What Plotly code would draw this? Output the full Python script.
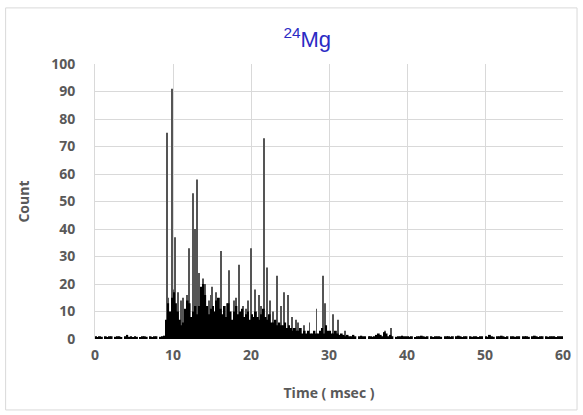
import numpy as np
import plotly.graph_objects as go

# ---- data ----
# dense background counts, one value per 0.25 ms bin starting at 0 ms (20 values = 5 ms per row)
base_step_ms = 0.25
base_counts = [
    1, 0.5, 1, 0.8, 0, 1, 0.6, 1, 1, 0, 0.8, 1, 1, 0.6, 0, 1, 1.5, 0.8, 1, 0.6,      # 0-5
    1, 0.8, 0, 0.6, 1, 1, 0.8, 0, 1, 0.7, 1, 1, 0, 0.8, 1, 1.2, 7, 13, 10, 15,       # 5-10
    17, 13, 10, 7, 5, 6, 11, 14, 13, 8, 10, 12, 9, 12, 19, 20, 16, 12, 9, 11,        # 10-15
    12, 10, 14, 15, 11, 9, 12, 8, 13, 10, 7, 10, 12, 9, 10, 11, 8, 9, 10, 7,         # 15-20
    9, 8, 10, 8, 7, 9, 11, 8, 7, 9, 6, 6, 7, 5, 6, 5, 5, 6, 4, 5,                    # 20-25
    4, 3, 4, 3, 3, 4, 2, 3, 2, 3, 2, 2, 3, 2, 2, 3, 4, 2, 5, 3,                      # 25-30
    3, 2, 2, 3, 2, 1.5, 2, 1.5, 1, 1.5, 1, 1, 1.5, 1, 0, 1, 1.2, 1, 1, 0,            # 30-35
    1, 1, 0.8, 1, 1.5, 2, 1.5, 1, 2.5, 2, 1, 1.5, 1, 0, 0.8, 1, 1, 1.2, 1, 1,        # 35-40
    1, 0.8, 1, 0, 0.7, 1, 1, 1.2, 1, 0.8, 1, 0, 1, 0.6, 1, 1, 1, 0.8, 0, 1,          # 40-45
    1, 1, 0.8, 1, 0, 1, 1.2, 1, 0.7, 1, 1, 0, 1, 0.8, 1, 1, 0.6, 1, 1, 0,            # 45-50
    1, 0.8, 1.5, 1, 0.8, 0, 1, 1, 1.2, 1, 0.7, 1, 0, 1, 1, 0.8, 1, 1, 0, 1,          # 50-55
    1, 1, 0.8, 0, 1, 1.2, 1, 0.7, 1, 1, 0, 1, 0.8, 1, 1, 1, 0.6, 1, 1, 1,            # 55-60
]

# individual spikes (time in ms, count)
spike_times = [9.2, 9.35, 9.9, 10.05, 10.2, 10.6, 11.3, 11.8, 12.1, 12.6, 12.85, 13.1,
               13.3, 13.8, 14.1, 14.6, 15.0, 15.5, 16.2, 16.6, 17.2, 17.8, 18.5, 19.0,
               19.6, 20.0, 20.5, 21.0, 21.7, 22.0, 22.4, 23.3, 23.8, 24.2, 24.7, 25.3,
               26.0, 26.8, 27.5, 28.4, 29.2, 29.5, 30.5, 31.2, 32.0, 37.2, 38.0,
               11.0, 14.9, 16.9, 18.1, 19.3, 21.3, 22.8, 25.8]
spike_counts = [75, 15, 91, 18, 37, 17, 15, 16, 33, 53, 40, 58,
                24, 22, 20, 14, 19, 17, 32, 12, 25, 14, 27, 12,
                14, 33, 18, 16, 73, 26, 14, 23, 12, 17, 16, 8,
                6, 5, 6, 11, 23, 13, 9, 7, 3, 3, 4,
                14, 16, 13, 15, 11, 12, 10, 7]

x_ticks = [0, 10, 20, 30, 40, 50, 60]
y_ticks = [0, 10, 20, 30, 40, 50, 60, 70, 80, 90, 100]

base_times = np.arange(len(base_counts)) * base_step_ms + base_step_ms / 2

fig = go.Figure()
fig.add_trace(go.Bar(x=spike_times, y=spike_counts, width=0.12,
                     marker=dict(color="#555555", line=dict(width=0))))
fig.add_trace(go.Bar(x=base_times, y=base_counts, width=base_step_ms,
                     marker=dict(color="#000000", line=dict(width=0))))

tick_font = dict(family="Open Sans", size=14, color="#595959", weight="bold")
title_font = dict(family="Open Sans", size=14, color="#595959", weight="bold")
fig.update_layout(
    width=583, height=415,
    margin=dict(l=95, r=17, t=64, b=76),
    paper_bgcolor="white", plot_bgcolor="white",
    barmode="overlay", showlegend=False,
    title=dict(text="<sup>24</sup>Mg", x=0.527, xanchor="center", y=0.905, yanchor="middle",
               font=dict(family="Liberation Sans", size=22, color="#2b2bc4")),
    xaxis=dict(range=[0, 60], tickvals=x_ticks, showgrid=True, gridcolor="#d9d9d9",
               gridwidth=1, zeroline=False, showline=False, tickfont=tick_font,
               ticks="", ticklen=0, ticklabelstandoff=6,
               title=dict(text="Time ( msec )", standoff=25, font=title_font)),
    yaxis=dict(range=[0, 100], tickvals=y_ticks, showgrid=True, gridcolor="#d9d9d9",
               gridwidth=1, zeroline=False, showline=True, linecolor="#d9d9d9",
               tickfont=tick_font, ticks="", ticklen=0, ticklabelstandoff=16,
               title=dict(text="Count", standoff=18, font=title_font)),
    shapes=[dict(type="rect", xref="paper", yref="paper", x0=-0.191, x1=1.03, y0=-0.258, y1=1.204,
                 line=dict(color="#d9d9d9", width=1))],
)

fig.write_html("out.html")
